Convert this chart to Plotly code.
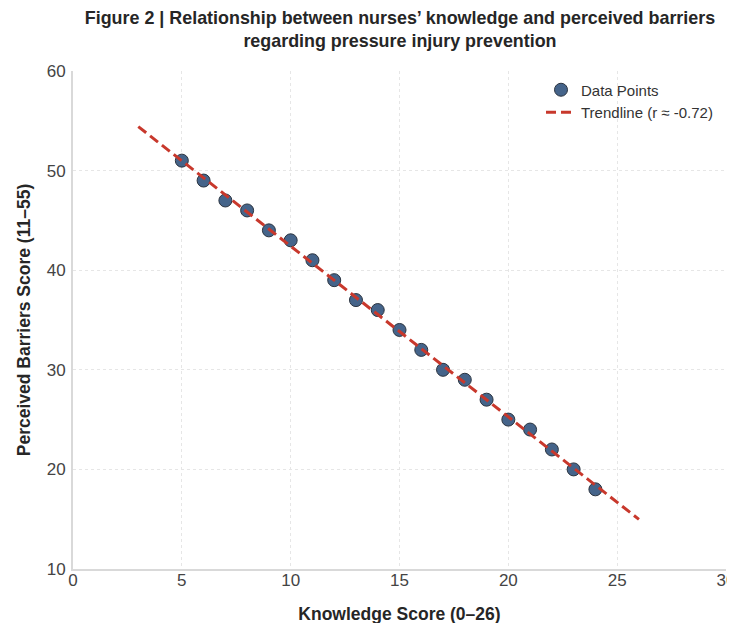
import numpy as np
import plotly.graph_objects as go

knowledge = [5, 6, 7, 8, 9, 10, 11, 12, 13, 14, 15, 16, 17, 18, 19, 20, 21, 22, 23, 24]
barriers = [51, 49, 47, 46, 44, 43, 41, 39, 37, 36, 34, 32, 30, 29, 27, 25, 24, 22, 20, 18]
trend_x_range = [3, 26]

slope, intercept = np.polyfit(knowledge, barriers, 1)
tx = np.array(trend_x_range, dtype=float)
ty = slope * tx + intercept

fig = go.Figure()
fig.add_trace(go.Scatter(
    x=knowledge, y=barriers, mode="markers", name="Data Points",
    marker=dict(size=13, color="#45648a", line=dict(color="#2b3440", width=1)),
))
fig.add_trace(go.Scatter(
    x=tx, y=ty, mode="lines", name="Trendline (r ≈ -0.72)",
    line=dict(color="#c8382c", width=3, dash="10px,5px"),
))

font_family = "Liberation Sans, Arial, sans-serif"
fig.update_layout(
    width=735, height=623,
    margin=dict(l=65, r=17, t=63, b=62),
    paper_bgcolor="white", plot_bgcolor="white",
    font=dict(family=font_family, color="#333333"),
    title=dict(
        text="<b>Figure 2 | Relationship between nurses’ knowledge and perceived barriers<br>regarding pressure injury prevention</b>",
        x=0.5333, xanchor="center", y=0.975, yanchor="top",
        font=dict(size=17.9, color="#262626"),
    ),
    legend=dict(
        x=0.7167, y=0.995, xanchor="left", yanchor="top",
        bgcolor="rgba(255,255,255,0)", font=dict(size=15, color="#333333"),
        itemwidth=30,
    ),
    showlegend=True,
)
fig.update_xaxes(
    range=[0, 30], tickvals=[0, 5, 10, 15, 20, 25, 30],
    showline=True, linecolor="#d9d9d9", linewidth=2,
    showgrid=True, gridcolor="#e6e6e6", griddash="dot", gridwidth=1,
    zeroline=False, ticks="", tickfont=dict(size=17, color="#444444"),
    ticklabelstandoff=-5,
    automargin=False,
    title=dict(text="<b>Knowledge Score (0–26)</b>", font=dict(size=17.5, color="#262626"), standoff=18),
)
fig.update_yaxes(
    range=[10, 60], tickvals=[10, 20, 30, 40, 50, 60],
    showline=True, linecolor="#d9d9d9", linewidth=2,
    showgrid=True, gridcolor="#e6e6e6", griddash="dot", gridwidth=1,
    zeroline=False, ticks="", tickfont=dict(size=17, color="#444444"),
    ticklabelstandoff=2,
    automargin=False,
    title=dict(text="<b>Perceived Barriers Score (11–55)</b>", font=dict(size=17.5, color="#262626"), standoff=12),
)

fig.write_html("out.html")
